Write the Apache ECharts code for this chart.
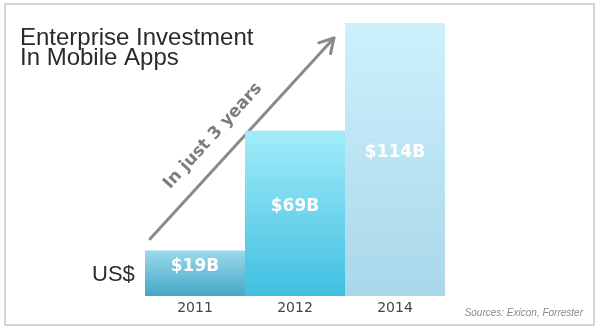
<!DOCTYPE html>
<html>
<head>
<meta charset="utf-8">
<script src="https://cdn.jsdelivr.net/npm/echarts@6/dist/echarts.min.js"></script>
<style>
html,body{margin:0;padding:0;background:#fff;}
#c{width:600px;height:333px;}
</style>
</head>
<body>
<div id="c"></div>
<script>
const categories = ['2011', '2012', '2014'];
const values = [19, 69, 114];
const topColors = ['#9ad9ec', '#a2ecfa', '#cdf1fc'];
const bottomColors = ['#45a7c5', '#3fbfe0', '#a9d7ea'];

const chart = echarts.init(document.getElementById('c'));

const data = values.map((v, i) => ({
  value: v,
  itemStyle: {
    color: new echarts.graphic.LinearGradient(0, 0, 0, 1, [
      { offset: 0, color: topColors[i] },
      { offset: 1, color: bottomColors[i] }
    ])
  }
}));

// arrow geometry
const ax0 = 150, ay0 = 239, ax1 = 334, ay1 = 38;
const len = Math.hypot(ax1 - ax0, ay1 - ay0);
const ux = (ax1 - ax0) / len, uy = (ay1 - ay0) / len;
const hl = 16, ang = Math.PI / 6;
function wing(sign) {
  const bx = -ux, by = -uy;
  const c = Math.cos(sign * ang), s = Math.sin(sign * ang);
  return [ax1 + hl * (bx * c - by * s), ay1 + hl * (bx * s + by * c)];
}
const rot = Math.atan2(ay0 - ay1, ax1 - ax0);

chart.setOption({
  animation: false,
  grid: { left: 145, right: 155, top: 23, bottom: 37 },
  xAxis: {
    type: 'category',
    data: categories,
    axisLine: { show: false },
    axisTick: { show: false },
    axisLabel: {
      color: '#444',
      fontFamily: 'DejaVu Sans',
      fontSize: 14,
      margin: 5
    }
  },
  yAxis: {
    type: 'value',
    min: 0,
    max: 114,
    show: false,
    splitLine: { show: false }
  },
  series: [{
    type: 'bar',
    data: data,
    barCategoryGap: 0,
    barGap: 0,
    label: {
      show: true,
      position: 'inside',
      offset: [0, -7],
      color: '#fff',
      fontFamily: 'DejaVu Sans',
      fontWeight: 'bold',
      fontSize: 17,
      formatter: p => '$' + p.value + 'B'
    }
  }],
  graphic: [
    {
      type: 'rect',
      shape: { x: 5, y: 4, width: 589, height: 321 },
      style: { fill: 'none', stroke: '#c8c8c8', lineWidth: 1.5 },
      z: -1
    },
    {
      type: 'text',
      left: 20, top: 26,
      style: {
        text: 'Enterprise Investment\nIn Mobile Apps',
        fill: '#2a2a2a',
        font: '24px "Liberation Sans", Arial, sans-serif',
        lineHeight: 20
      }
    },
    {
      type: 'text',
      x: 92, y: 275,
      style: {
        text: 'US$',
        fill: '#2d2d2d',
        font: '22px "Liberation Sans", Arial, sans-serif',
        verticalAlign: 'middle'
      }
    },
    {
      type: 'line',
      shape: { x1: ax0, y1: ay0, x2: ax1, y2: ay1 },
      style: { stroke: '#8a8a8a', lineWidth: 3, lineCap: 'round' }
    },
    {
      type: 'polyline',
      shape: { points: [wing(1), [ax1, ay1], wing(-1)] },
      style: { stroke: '#8a8a8a', lineWidth: 3, fill: 'none', lineCap: 'round', lineJoin: 'round' }
    },
    {
      type: 'text',
      x: 213, y: 136,
      rotation: rot,
      style: {
        text: 'In just 3 years',
        fill: '#7c7c7c',
        font: 'bold 17px "DejaVu Sans", sans-serif',
        align: 'center',
        verticalAlign: 'middle'
      }
    },
    {
      type: 'text',
      x: 583, y: 313,
      style: {
        text: 'Sources: Exicon, Forrester',
        fill: '#8a8a8a',
        font: 'italic 10px "Liberation Sans", Arial, sans-serif',
        align: 'right',
        verticalAlign: 'middle'
      }
    }
  ]
});
</script>
</body>
</html>
